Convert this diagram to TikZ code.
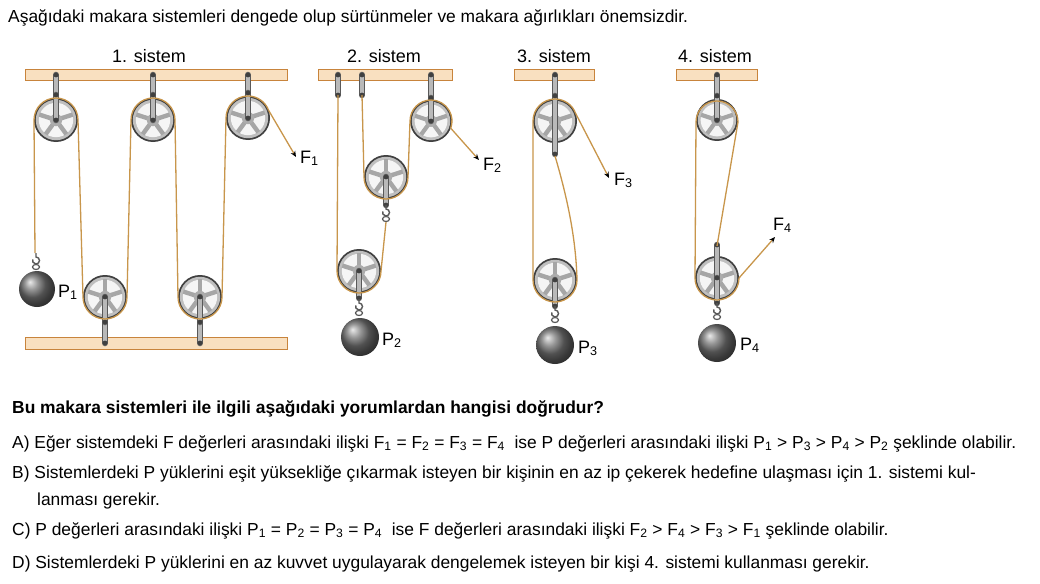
\documentclass[tikz,border=0pt]{standalone}
\usepackage{fontspec}
\setmainfont{Liberation Sans}
\definecolor{rope}{HTML}{C8964B}
\definecolor{barfill}{HTML}{F9E0C0}
\definecolor{bardraw}{HTML}{C8843C}
\usetikzlibrary{arrows.meta}
\tikzset{
  ropeline/.style={rope,line width=1.3pt},
  bar/.style={fill=barfill,draw=bardraw,line width=0.8pt},
  txt/.style={anchor=base west,inner sep=0pt,font=\fontsize{17.4}{19}\selectfont},
  lbl/.style={anchor=base west,inner sep=0pt,font=\fontsize{18}{19}\selectfont},
  arr/.style={ropeline,-{Stealth[length=6pt,width=5pt,black]}}
}
\newcommand\pul[3]{%
  \fill[black!75] (#1,#2) circle ({#3*1pt});
  \fill[gray!50] (#1,#2) circle ({(#3-1.8)*1pt});
  \fill[gray!8] (#1,#2) circle ({0.78*#3*1pt});
  \foreach \a in {90,162,234,306,18}{
    \draw[gray!70,line width={0.2*#3*1pt}] (#1,#2) -- ++(\a:{0.8*#3*1pt});}
  \fill[gray!65] (#1,#2) circle ({0.28*#3*1pt});
  \fill[black!75] (#1,#2) circle (2.4pt);}
\newcommand\hang[4]{%
  \draw[black!65,line width=6.5pt,line cap=round] (#1,#2) -- (#3,#4);
  \draw[gray!55,line width=4.5pt,line cap=round] (#1,#2) -- (#3,#4);
  \fill[black!75] (#1,#2) circle (2.4pt);
  \fill[black!75] (#3,#4) circle (2.4pt);}
\newcommand\ball[3]{\shade[ball color=black!55] (#1,#2) circle ({#3*1pt});}
\newcommand\hook[2]{%
  \draw[gray!70!black,line width=1.4pt] (#1,#2) -- ++(0,-4) arc (90:-200:3.5pt);
  \draw[gray!70!black,line width=1.2pt] (#1,{#2-14}) ellipse (3.5pt and 2.5pt);}
\begin{document}
\begin{tikzpicture}[x=1pt,y=1pt]
\useasboundingbox (0,0) rectangle (1040,-583);
\fill[white] (0,0) rectangle (1040,-583);
\node[txt] (hd) at (8,-23) {Aşağıdaki makara sistemleri dengede olup sürtünmeler ve makara ağırlıkları önemsizdir.};
\node[lbl] at (112,-63) {1. sistem};
\node[lbl] at (347,-63) {2. sistem};
\node[lbl] at (517,-63) {3. sistem};
\node[lbl] at (678,-63) {4. sistem};
% ===== system 1
\draw[bar] (25,-69) rectangle (287,-80);
\draw[bar] (25,-337) rectangle (287,-349);
\pul{56}{-120}{22}\pul{153}{-120}{22}\pul{248}{-118}{22}
\pul{105}{-297}{22}\pul{200}{-297}{22}
\hang{56}{-75}{56}{-95}\hang{153}{-75}{153}{-95}\hang{248}{-75}{248}{-93}
\hang{56}{-95}{56}{-120}\hang{153}{-95}{153}{-120}\hang{248}{-93}{248}{-118}
\hang{105}{-343}{105}{-322}\hang{200}{-343}{200}{-322}
\hang{105}{-322}{105}{-297}\hang{200}{-322}{200}{-297}
\draw[ropeline] (35,-253) -- (34,-120) arc (180:0:22pt) -- (83,-297) arc (180:360:22pt)
  -- (131,-120) arc (180:0:22pt) -- (178,-297) arc (180:360:22pt) -- (226,-118) arc (180:20:22pt) coordinate (f1s);
\draw[arr] (f1s) -- (296,-157);
\node[lbl] at (300,-163) {F\textsubscript{1}};
\hook{36}{-253}
\ball{37}{-289}{18}
\node[lbl] at (58,-297) {P\textsubscript{1}};
% ===== system 2
\draw[bar] (318,-69) rectangle (452,-80);
\hang{338}{-75}{338}{-95}\hang{362}{-75}{362}{-95}
\pul{431}{-121}{21}
\hang{431}{-75}{431}{-98}\hang{431}{-98}{431}{-121}
\pul{386}{-177}{22}
\hang{386}{-177}{386}{-205}
\pul{359}{-271}{22}
\hang{359}{-271}{359}{-298}
\draw[ropeline] (338,-95) -- (337,-271) arc (180:360:22pt) -- (386,-222);
\draw[ropeline] (362,-95) -- (364,-177) arc (180:360:22pt) -- (410,-121) arc (180:-20:21pt) coordinate (f2s);
\draw[arr] (f2s) -- (479,-160);
\node[lbl] at (483,-170) {F\textsubscript{2}};
\hook{386}{-205}
\hook{359}{-299}
\ball{360}{-337}{19}
\node[lbl] at (382,-345) {P\textsubscript{2}};
% ===== system 3
\draw[bar] (514,-69) rectangle (594,-80);
\pul{555}{-121}{22}
\hang{555}{-75}{555}{-96}\hang{555}{-96}{555}{-154}
\pul{555}{-280}{22}
\hang{555}{-280}{555}{-306}
\draw[ropeline] (555,-156) .. controls (568,-200) and (576,-240) .. (577,-280) arc (0:-180:22pt)
  -- (533,-121) arc (180:20:22pt) coordinate (f3s);
\draw[arr] (f3s) -- (609,-178);
\node[lbl] at (614,-185) {F\textsubscript{3}};
\hook{555}{-306}
\ball{555}{-345}{19}
\node[lbl] at (578,-353) {P\textsubscript{3}};
% ===== system 4
\draw[bar] (676,-69) rectangle (757,-80);
\pul{717}{-120}{21}
\hang{717}{-75}{717}{-96}\hang{717}{-96}{717}{-120}
\pul{717}{-278}{22}
\hang{717}{-245}{717}{-278}
\hang{717}{-278}{717}{-303}
\draw[ropeline] (717,-246) -- (738,-122) arc (0:180:21pt) -- (695,-278) arc (180:360:22pt) coordinate (f4s);
\draw[arr] (f4s) -- (775,-237);
\node[lbl] at (773,-230) {F\textsubscript{4}};
\hook{717}{-303}
\ball{717}{-343}{19}
\node[lbl] at (740,-350) {P\textsubscript{4}};
% ===== question
\node[txt,font=\fontsize{17.4}{19}\selectfont\bfseries] at (12,-413) {Bu makara sistemleri ile ilgili aşağıdaki yorumlardan hangisi doğrudur?};
\node[txt] at (12,-448) {A)\ Eğer sistemdeki F değerleri arasındaki ilişki F\textsubscript{1} = F\textsubscript{2} = F\textsubscript{3} = F\textsubscript{4}\ \ ise P değerleri arasındaki ilişki P\textsubscript{1} > P\textsubscript{3} > P\textsubscript{4} > P\textsubscript{2} şeklinde olabilir.};
\node[txt] at (12,-478) {B)\ Sistemlerdeki P yüklerini eşit yüksekliğe çıkarmak isteyen bir kişinin en az ip çekerek hedefine ulaşması için 1. sistemi kul-};
\node[txt] at (37,-505) {lanması gerekir.};
\node[txt] at (12,-535) {C)\ P değerleri arasındaki ilişki P\textsubscript{1} = P\textsubscript{2} = P\textsubscript{3} = P\textsubscript{4}\ \ ise F değerleri arasındaki ilişki F\textsubscript{2} > F\textsubscript{4} > F\textsubscript{3} > F\textsubscript{1} şeklinde olabilir.};
\node[txt] at (12,-568) {D)\ Sistemlerdeki P yüklerini en az kuvvet uygulayarak dengelemek isteyen bir kişi 4. sistemi kullanması gerekir.};
\end{tikzpicture}
\end{document}
